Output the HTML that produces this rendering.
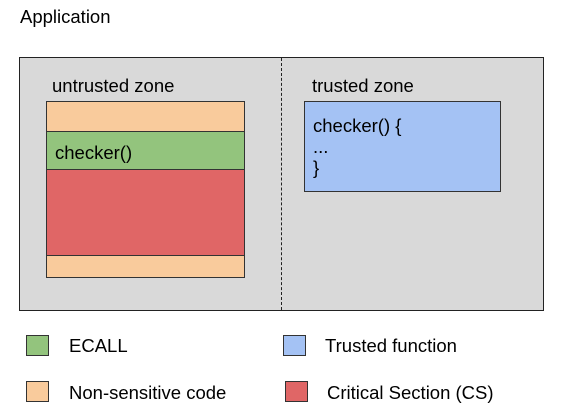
<!DOCTYPE html>
<html><head><meta charset="utf-8"><style>
body{margin:0;width:561px;height:418px;background:#fff;font-family:"Liberation Sans",Arial,sans-serif;position:relative;overflow:hidden}
div{position:absolute;box-sizing:border-box}
.t{font-size:18.5px;color:#000;white-space:nowrap;line-height:21px}
.b{border:1px solid #333}
</style></head><body>
<div class="t" style="left:20px;top:6px">Application</div>
<div class="b" style="left:19px;top:57px;width:525px;height:254px;background:#d9d9d9;border-color:#222"></div>
<div style="left:281px;top:58px;width:0;height:252px;border-left:1px dashed #222"></div>
<div class="t" style="left:52px;top:75px">untrusted zone</div>
<div class="t" style="left:312px;top:75px">trusted zone</div>
<div class="b" style="left:46px;top:101px;width:199px;height:31px;background:#f9cb9c"></div>
<div class="b" style="left:46px;top:131px;width:199px;height:39px;background:#93c47d"></div>
<div class="t" style="left:55px;top:142px">checker()</div>
<div class="b" style="left:46px;top:169px;width:199px;height:87px;background:#e06666"></div>
<div class="b" style="left:46px;top:255px;width:199px;height:23px;background:#f9cb9c"></div>
<div class="b" style="left:304px;top:101px;width:197px;height:91px;background:#a4c2f4"></div>
<div class="t" style="left:313px;top:115px;line-height:21px">checker() {<br>...<br>}</div>
<div class="b" style="left:26px;top:335px;width:23px;height:21px;background:#93c47d"></div>
<div class="t" style="left:69px;top:335px">ECALL</div>
<div class="b" style="left:283px;top:335px;width:23px;height:21px;background:#a4c2f4"></div>
<div class="t" style="left:325px;top:335px">Trusted function</div>
<div class="b" style="left:26px;top:381px;width:23px;height:21px;background:#f9cb9c"></div>
<div class="t" style="left:69px;top:382px">Non-sensitive code</div>
<div class="b" style="left:285px;top:381px;width:23px;height:21px;background:#e06666"></div>
<div class="t" style="left:327px;top:382px">Critical Section (CS)</div>
</body></html>
